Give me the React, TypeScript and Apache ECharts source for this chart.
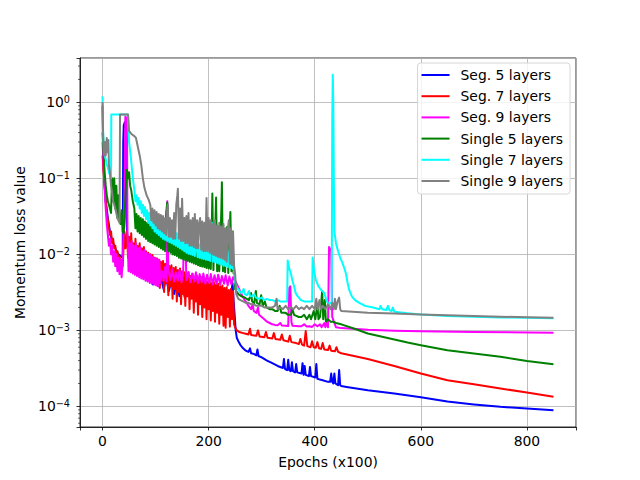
import React, { useEffect, useRef } from "react";
import * as echarts from "echarts";

type Pt = [number, number];

const seriesNames = ["Seg. 5 layers", "Seg. 7 layers", "Seg. 9 layers", "Single 5 layers", "Single 7 layers", "Single 9 layers"];
const seriesColors = ["#0000ff", "#ff0000", "#ff00ff", "#008000", "#00ffff", "#808080"];

const seg5: Pt[] = [
  [0, 0.9], [1, 0.25], [3, 0.1], [6, 0.05], [10, 0.03], [14, 0.02], [18, 0.015], [22, 0.013], [26, 0.011], [30, 0.01], [34, 0.0095], [38, 0.009],
  [39, 0.3], [40, 0.5], [42, 0.55], [44, 0.45], [45, 0.03], [47, 0.015], [50, 0.012], [54, 0.011], [58, 0.0095], [62, 0.009], [66, 0.008], [70, 0.007],
  [75, 0.0065], [80, 0.006], [85, 0.0045], [90, 0.0058], [95, 0.004], [100, 0.0055], [105, 0.0038], [110, 0.005], [115, 0.0035], [120, 0.0048],
  [125, 0.0033], [130, 0.0045], [135, 0.003], [140, 0.0042], [145, 0.0028], [150, 0.004], [155, 0.0027], [160, 0.0038], [165, 0.0026], [170, 0.0036],
  [175, 0.0025], [180, 0.0042], [184, 0.0024], [188, 0.0034], [192, 0.0023], [196, 0.0032], [200, 0.0022], [205, 0.003], [210, 0.0021], [215, 0.0029],
  [220, 0.002], [225, 0.0028], [230, 0.0019], [235, 0.0027], [240, 0.0018], [243, 0.0032], [245, 0.0042], [247, 0.0025], [249, 0.0016], [251, 0.001],
  [253, 0.0008], [256, 0.00072], [260, 0.00064], [265, 0.00058], [270, 0.00054], [275, 0.00052], [278, 0.00058], [280, 0.0005], [285, 0.00049],
  [290, 0.00047], [292, 0.00056], [294, 0.00046], [300, 0.00044], [310, 0.0004], [320, 0.00037], [330, 0.00034], [340, 0.00032], [342, 0.00042],
  [344, 0.00031], [348, 0.0003], [350, 0.00041], [352, 0.0003], [355, 0.00029], [357, 0.00038], [359, 0.00029], [363, 0.00028], [365, 0.00036],
  [367, 0.00028], [375, 0.00027], [377, 0.00037], [379, 0.00026], [381, 0.00034], [383, 0.00026], [389, 0.00025], [391, 0.00033], [393, 0.00025],
  [401, 0.00024], [403, 0.00036], [405, 0.00023], [415, 0.00022], [425, 0.00021], [429, 0.00021], [431, 0.00027], [433, 0.00021], [435, 0.0002],
  [437, 0.00027], [439, 0.0002], [444, 0.00019], [446, 0.0003], [448, 0.00019], [450, 0.000185], [460, 0.00018], [500, 0.000163], [550, 0.000148],
  [600, 0.000132], [650, 0.000116], [700, 0.000106], [750, 0.0000985], [800, 0.0000935], [850, 0.000089],
];

const seg7: Pt[] = [
  [0, 0.2], [2, 0.12], [4, 0.08], [6, 0.05], [8, 0.035], [10, 0.028], [12, 0.022], [14, 0.018], [16, 0.02], [18, 0.014], [20, 0.016], [22, 0.012],
  [24, 0.013], [26, 0.01], [28, 0.011], [30, 0.0085], [32, 0.0095], [34, 0.0075], [36, 0.0085], [38, 0.007], [41, 0.02], [43, 0.012],
  [46, 0.02], [48, 0.009], [50, 0.017], [52, 0.0075], [54, 0.019], [56, 0.0085], [58, 0.014], [60, 0.0065], [62, 0.016], [64, 0.0078], [66, 0.013],
  [68, 0.006], [70, 0.014], [72, 0.0072], [74, 0.012], [76, 0.0055], [78, 0.0125], [80, 0.0066], [82, 0.011], [84, 0.005], [86, 0.0105], [88, 0.006],
  [90, 0.01], [92, 0.0045], [94, 0.0098], [96, 0.0055], [98, 0.009], [100, 0.0041], [102, 0.0088], [104, 0.0048], [106, 0.0085], [108, 0.0036],
  [110, 0.008], [112, 0.0045], [114, 0.0082], [116, 0.0032], [118, 0.0075], [120, 0.0042], [122, 0.008], [124, 0.0029], [126, 0.007], [128, 0.0038],
  [130, 0.0072], [132, 0.0026], [134, 0.0066], [136, 0.0035], [138, 0.0068], [140, 0.0024], [142, 0.0062], [144, 0.0032], [146, 0.0065],
  [148, 0.0022], [150, 0.006], [152, 0.003], [154, 0.0058], [156, 0.0021], [158, 0.0055], [160, 0.0028], [162, 0.0058], [164, 0.0019],
  [166, 0.0052], [168, 0.0026], [170, 0.0055], [172, 0.0017], [174, 0.005], [176, 0.0024], [178, 0.0052], [180, 0.0016], [182, 0.0048],
  [184, 0.0022], [186, 0.005], [188, 0.0015], [190, 0.0046], [192, 0.002], [194, 0.0047], [196, 0.0014], [198, 0.0044], [200, 0.0019],
  [202, 0.0045], [204, 0.00135], [206, 0.0042], [208, 0.0018], [210, 0.0043], [212, 0.0013], [214, 0.004], [216, 0.0017], [218, 0.0041],
  [220, 0.00122], [222, 0.0038], [224, 0.0016], [226, 0.0039], [228, 0.00115], [230, 0.0036], [232, 0.00108], [234, 0.0037], [236, 0.0015],
  [238, 0.0034], [240, 0.00112], [242, 0.0035], [244, 0.0014], [246, 0.0033], [248, 0.0012], [250, 0.0011],
  [253, 0.001], [258, 0.00095], [265, 0.00092], [270, 0.0009], [275, 0.00088], [278, 0.00105], [280, 0.00087], [290, 0.00085], [293, 0.001],
  [296, 0.00083], [305, 0.00081], [308, 0.00095], [311, 0.0008], [320, 0.00078], [323, 0.00092], [326, 0.00077], [335, 0.00075], [338, 0.00088],
  [341, 0.00074], [350, 0.00071], [353, 0.00085], [356, 0.0007], [365, 0.00068], [370, 0.00066], [373, 0.00077], [376, 0.00065], [380, 0.00063],
  [383, 0.00098], [386, 0.00062], [392, 0.0006], [395, 0.00072], [398, 0.0006], [402, 0.00059], [405, 0.0007], [408, 0.00058], [412, 0.00057],
  [415, 0.00068], [418, 0.00056], [425, 0.00055], [428, 0.00063], [431, 0.00054], [438, 0.00053], [441, 0.0006], [444, 0.00052], [450, 0.0005],
  [500, 0.00042], [550, 0.00034], [600, 0.00027], [650, 0.00022], [700, 0.000195], [750, 0.000172], [800, 0.000152], [850, 0.000134],
];

const seg9: Pt[] = [
  [0, 0.3], [2, 0.15], [4, 0.07], [6, 0.04], [8, 0.025], [10, 0.018], [12, 0.013], [14, 0.016], [16, 0.01], [18, 0.013], [20, 0.008], [22, 0.011],
  [24, 0.007], [26, 0.01], [28, 0.006], [30, 0.009], [32, 0.0055], [34, 0.0085], [36, 0.005], [38, 0.008], [41, 0.05], [43, 0.65], [46, 0.6],
  [47, 0.02], [49, 0.006], [51, 0.014], [53, 0.0058], [55, 0.015], [57, 0.0056], [59, 0.013], [61, 0.0054], [63, 0.014], [65, 0.0052], [67, 0.012],
  [69, 0.005], [71, 0.0125], [73, 0.0048], [75, 0.011], [77, 0.0047], [79, 0.0115], [81, 0.0045], [83, 0.0105], [85, 0.0044], [87, 0.01],
  [89, 0.0042], [91, 0.0098], [93, 0.0041], [95, 0.0092], [97, 0.004], [99, 0.009], [101, 0.0039], [103, 0.0088], [105, 0.0038], [107, 0.0085],
  [109, 0.0042], [112, 0.006], [115, 0.0045], [118, 0.0068], [121, 0.0044], [122, 0.05], [124, 0.0062], [128, 0.0046], [131, 0.0064],
  [135, 0.0044], [138, 0.0058], [142, 0.0045], [145, 0.0062], [149, 0.0043], [152, 0.006], [154, 0.03], [156, 0.02], [158, 0.0046], [162, 0.0058],
  [166, 0.0043], [169, 0.0056], [173, 0.0044], [176, 0.0058], [180, 0.0042], [183, 0.0055], [187, 0.0043], [190, 0.0056], [194, 0.0041],
  [197, 0.0054], [201, 0.0042], [204, 0.0055], [208, 0.004], [211, 0.0053], [215, 0.0041], [218, 0.0054], [222, 0.004], [225, 0.0052],
  [229, 0.0041], [232, 0.0053], [236, 0.0039], [239, 0.0051], [243, 0.004], [246, 0.005], [250, 0.0045],
  [255, 0.0038], [260, 0.0032], [265, 0.0027], [270, 0.0024], [275, 0.0021], [280, 0.0019], [283, 0.0022], [285, 0.0018], [290, 0.0017],
  [293, 0.002], [295, 0.0016], [300, 0.0015], [305, 0.0014], [310, 0.0013], [315, 0.00125], [320, 0.0012], [325, 0.00118], [330, 0.00117],
  [335, 0.00125], [338, 0.00116], [345, 0.00115], [350, 0.00114], [352, 0.0036], [354, 0.0038], [356, 0.0013], [358, 0.00115], [365, 0.00114],
  [370, 0.00113], [375, 0.00113], [380, 0.0012], [385, 0.00112], [390, 0.00113], [395, 0.00111], [400, 0.0012], [405, 0.00113], [410, 0.0012],
  [413, 0.0011], [418, 0.00125], [420, 0.0011], [423, 0.0013], [425, 0.0011], [427, 0.0125], [431, 0.011], [433, 0.0015], [436, 0.0013],
  [440, 0.0011], [450, 0.00107], [500, 0.00102], [550, 0.00099], [600, 0.00097], [700, 0.00095], [850, 0.00093],
];

const single5: Pt[] = [
  [0, 0.4], [2, 0.2], [4, 0.12], [6, 0.08], [8, 0.06], [10, 0.05], [12, 0.045], [14, 0.04], [16, 0.035], [18, 0.1], [20, 0.05], [22, 0.1],
  [24, 0.04], [26, 0.08], [28, 0.03], [30, 0.06], [32, 0.03], [34, 0.025], [36, 0.038], [38, 0.02], [40, 0.019], [44, 0.08], [46, 0.13],
  [48, 0.1], [50, 0.12], [52, 0.08], [54, 0.07], [57, 0.05],
  [60, 0.04], [62, 0.022], [64, 0.034], [66, 0.02], [68, 0.032], [70, 0.019], [72, 0.03], [74, 0.018], [76, 0.029], [78, 0.017], [80, 0.027],
  [82, 0.016], [84, 0.026], [86, 0.015], [88, 0.025], [90, 0.0145], [92, 0.024], [94, 0.014], [96, 0.023], [98, 0.0135], [100, 0.022], [102, 0.013],
  [104, 0.021], [106, 0.0125], [108, 0.02], [110, 0.012], [112, 0.0195], [114, 0.0115], [116, 0.019], [118, 0.011], [120, 0.036], [122, 0.048],
  [124, 0.011], [126, 0.018], [128, 0.0105], [130, 0.0175], [132, 0.01], [134, 0.017], [136, 0.0098], [138, 0.0165], [140, 0.0095], [142, 0.016],
  [144, 0.009], [146, 0.02], [148, 0.0088], [150, 0.0155], [152, 0.0086], [154, 0.015], [156, 0.0084], [158, 0.0145], [160, 0.0082], [162, 0.016],
  [164, 0.008], [166, 0.014], [168, 0.0078], [170, 0.0135], [172, 0.0076], [174, 0.018], [176, 0.0074], [178, 0.013], [180, 0.0072], [182, 0.0128],
  [184, 0.007], [186, 0.015], [188, 0.0069], [190, 0.0125], [192, 0.0068], [194, 0.012], [196, 0.0066], [198, 0.02], [200, 0.0065], [202, 0.012],
  [204, 0.0064], [206, 0.025], [207, 0.063], [209, 0.0062], [211, 0.015], [213, 0.03], [214, 0.056], [216, 0.006], [218, 0.014], [220, 0.006],
  [222, 0.013], [224, 0.04], [225, 0.089], [227, 0.006], [229, 0.018], [231, 0.0058], [233, 0.013], [235, 0.023], [237, 0.0057], [239, 0.016],
  [241, 0.036], [243, 0.006], [245, 0.02], [247, 0.0056], [249, 0.0055], [250, 0.0035],
  [252, 0.0033], [256, 0.003], [262, 0.0028], [268, 0.0027], [272, 0.0026], [276, 0.0025], [280, 0.0031], [282, 0.0024], [286, 0.0023],
  [289, 0.0033], [291, 0.0023], [296, 0.0022], [299, 0.0029], [302, 0.0021], [306, 0.0024], [309, 0.002], [315, 0.0019], [320, 0.0019],
  [325, 0.0018], [330, 0.0018], [334, 0.0021], [337, 0.0017], [345, 0.0017], [350, 0.0016], [355, 0.0016], [358, 0.0019], [361, 0.0016],
  [370, 0.0015], [375, 0.0015], [380, 0.0016], [385, 0.0014], [390, 0.0016], [393, 0.0014], [398, 0.0018], [401, 0.0014], [405, 0.0022],
  [407, 0.0014], [410, 0.0015], [414, 0.0033], [416, 0.0014], [419, 0.0025], [421, 0.0013], [425, 0.0014], [430, 0.0013], [435, 0.0013],
  [440, 0.00125], [450, 0.0012], [475, 0.00105], [500, 0.00091], [525, 0.00083], [550, 0.00076], [575, 0.00069], [600, 0.000635],
  [625, 0.000589], [650, 0.000546], [700, 0.000495], [750, 0.00045], [800, 0.000395], [850, 0.000357],
];

const single7: Pt[] = [
  [0, 1.2], [1, 0.4], [2, 0.3], [4, 0.2], [6, 0.18], [8, 0.15], [10, 0.14], [12, 0.12], [14, 0.11], [16, 0.1], [16.5, 0.69], [48, 0.69],
  [50, 0.3], [53, 0.2], [56, 0.12], [58, 0.09],
  [60, 0.07], [62, 0.05], [64, 0.06], [66, 0.045], [68, 0.055], [70, 0.04], [72, 0.05], [74, 0.035], [76, 0.045], [78, 0.032], [80, 0.042],
  [82, 0.029], [84, 0.038], [86, 0.026], [88, 0.035], [90, 0.024], [92, 0.033], [94, 0.022], [96, 0.031], [98, 0.02], [100, 0.029], [102, 0.019],
  [104, 0.027], [106, 0.018], [108, 0.026], [110, 0.017], [112, 0.025], [114, 0.016], [116, 0.024], [118, 0.0155], [120, 0.023], [122, 0.015],
  [124, 0.022], [126, 0.0145], [128, 0.021], [130, 0.014], [132, 0.02], [134, 0.0135], [136, 0.0195], [138, 0.013], [140, 0.019], [142, 0.0125],
  [144, 0.018], [146, 0.012], [148, 0.0175], [150, 0.0115], [152, 0.017], [154, 0.011], [156, 0.0165], [158, 0.0105], [160, 0.016], [162, 0.0102],
  [164, 0.0155], [166, 0.01], [168, 0.015], [170, 0.0098], [172, 0.0145], [174, 0.0095], [176, 0.014], [177, 0.027], [179, 0.0092], [181, 0.014],
  [183, 0.009], [185, 0.0135], [187, 0.0088], [189, 0.013], [191, 0.0087], [193, 0.0128], [195, 0.0085], [197, 0.0125], [199, 0.0084], [201, 0.012],
  [203, 0.0082], [205, 0.018], [206, 0.026], [208, 0.008], [210, 0.02], [212, 0.0079], [214, 0.012], [216, 0.0077], [218, 0.0118], [220, 0.0075],
  [222, 0.0115], [224, 0.0073], [226, 0.0112], [228, 0.0071], [230, 0.011], [232, 0.007], [234, 0.0105], [236, 0.0068], [238, 0.0102], [240, 0.012],
  [242, 0.0066], [244, 0.01], [246, 0.0064], [248, 0.0062], [250, 0.0042],
  [254, 0.0036], [258, 0.0033], [262, 0.0031], [266, 0.0035], [268, 0.003], [272, 0.0029], [276, 0.0033], [278, 0.0028], [282, 0.0028],
  [286, 0.003], [289, 0.0027], [295, 0.0026], [300, 0.0027], [305, 0.0025], [310, 0.0026], [315, 0.0025], [320, 0.0025], [325, 0.0024],
  [330, 0.0025], [335, 0.0024], [340, 0.0024], [345, 0.0024], [348, 0.0024], [349, 0.0083], [352, 0.0065], [355, 0.0056], [358, 0.0045],
  [361, 0.0038], [364, 0.0031], [368, 0.0028], [374, 0.0025], [380, 0.0024], [386, 0.0024], [392, 0.0024], [395, 0.0024], [396, 0.0091],
  [399, 0.006], [402, 0.0046], [407, 0.0038], [412, 0.0034], [418, 0.0031], [422, 0.0025], [426, 0.0022], [430, 0.0023], [432, 0.0023],
  [433, 0.6], [434, 2.3], [435, 1.0], [436, 0.1], [437, 0.02], [440, 0.014], [444, 0.011], [448, 0.009], [452, 0.0078], [456, 0.0065],
  [459, 0.0055], [462, 0.0042], [465, 0.0034], [470, 0.0028], [476, 0.0025], [484, 0.0023], [495, 0.0021], [510, 0.002], [522, 0.0019],
  [524, 0.0021], [527, 0.0019], [535, 0.00185], [538, 0.0021], [541, 0.00183], [545, 0.0018], [547, 0.002], [550, 0.00176], [575, 0.00168],
  [600, 0.00162], [650, 0.00155], [700, 0.00151], [750, 0.00148], [800, 0.00146], [850, 0.00144],
];

const single9: Pt[] = [
  [0, 1.0], [1, 0.4], [2, 0.25], [3, 0.2], [5, 0.3], [6, 0.2], [8, 0.34], [9, 0.22], [11, 0.32], [12, 0.15], [14, 0.12], [16, 0.08], [18, 0.065],
  [20, 0.05], [22, 0.045], [24, 0.04], [26, 0.035], [28, 0.03], [30, 0.028], [32, 0.026], [33, 0.69], [48, 0.69], [50, 0.42], [55, 0.38],
  [60, 0.36], [63, 0.34], [66, 0.27], [70, 0.2], [73, 0.15], [76, 0.1], [79, 0.075], [83, 0.06], [87, 0.052],
  [90, 0.045], [92, 0.028], [94, 0.04], [96, 0.026], [98, 0.038], [100, 0.024], [102, 0.036], [104, 0.022], [106, 0.034], [108, 0.021],
  [110, 0.033], [112, 0.02], [114, 0.032], [116, 0.019], [118, 0.03], [120, 0.018], [122, 0.04], [123, 0.045], [125, 0.017], [127, 0.03],
  [129, 0.017], [131, 0.028], [133, 0.016], [135, 0.035], [137, 0.016], [139, 0.045], [141, 0.06], [142, 0.073], [144, 0.016], [146, 0.04],
  [148, 0.015], [150, 0.054], [152, 0.015], [154, 0.03], [156, 0.014], [158, 0.032], [160, 0.014], [162, 0.035], [164, 0.013], [166, 0.028],
  [168, 0.013], [170, 0.03], [172, 0.0125], [174, 0.034], [176, 0.012], [178, 0.028], [180, 0.012], [182, 0.026], [184, 0.03], [186, 0.0115],
  [188, 0.027], [190, 0.011], [192, 0.026], [194, 0.011], [196, 0.055], [198, 0.011], [200, 0.03], [202, 0.0105], [204, 0.028], [206, 0.01],
  [208, 0.025], [210, 0.0098], [212, 0.028], [214, 0.0095], [216, 0.024], [218, 0.0092], [220, 0.026], [222, 0.009], [224, 0.023], [226, 0.0088],
  [228, 0.025], [230, 0.0085], [232, 0.022], [234, 0.008], [236, 0.021], [238, 0.028], [240, 0.0075], [242, 0.022], [244, 0.0072], [246, 0.02],
  [248, 0.007], [250, 0.0055],
  [252, 0.003], [256, 0.0026], [260, 0.0025], [265, 0.0024], [270, 0.0023], [275, 0.0023], [280, 0.0022], [285, 0.0022], [290, 0.0021],
  [295, 0.0021], [300, 0.0021], [305, 0.002], [310, 0.002], [315, 0.002], [320, 0.002], [325, 0.0021], [328, 0.0026], [330, 0.0019], [335, 0.002],
  [340, 0.0019], [345, 0.0021], [350, 0.0019], [355, 0.002], [360, 0.0019], [365, 0.0021], [370, 0.0019], [375, 0.002], [380, 0.0019],
  [385, 0.0021], [390, 0.0019], [395, 0.0021], [400, 0.0019], [403, 0.0026], [405, 0.0019], [409, 0.0025], [411, 0.0019], [415, 0.0021],
  [420, 0.0019], [425, 0.0022], [430, 0.0019], [433, 0.0023], [436, 0.0019], [438, 0.0026], [440, 0.0019], [443, 0.0024], [446, 0.0027],
  [448, 0.0019], [450, 0.0018], [500, 0.0017], [550, 0.00166], [600, 0.00162], [650, 0.00158], [700, 0.00154], [750, 0.00151],
  [800, 0.00149], [850, 0.00147],
];

const seriesData: Pt[][] = [seg5, seg7, seg9, single5, single7, single9];

const xTicks = [0, 200, 400, 600, 800];
const yMajorExponents = [-4, -3, -2, -1, 0];
const minorTicks = [
  6e-5, 7e-5, 8e-5, 9e-5,
  2e-4, 3e-4, 4e-4, 5e-4, 6e-4, 7e-4, 8e-4, 9e-4,
  2e-3, 3e-3, 4e-3, 5e-3, 6e-3, 7e-3, 8e-3, 9e-3,
  2e-2, 3e-2, 4e-2, 5e-2, 6e-2, 7e-2, 8e-2, 9e-2,
  0.2, 0.3, 0.4, 0.5, 0.6, 0.7, 0.8, 0.9,
  2, 3,
];

const X_MIN = -42.5;
const X_MAX = 892.5;
const Y_MIN = 5.35e-5;
const Y_MAX = 3.83;
const FONT = "DejaVu Sans";
const FS = 13.9;

function yLabel(v: number): string {
  const e = Math.log10(v);
  const r = Math.round(e);
  if (Math.abs(e - r) > 1e-6 || !yMajorExponents.includes(r)) return "";
  const exp = r < 0 ? "\u2212" + String(-r) : String(r);
  return `{b|10}{s|${exp}}`;
}

function xLabel(v: number): string {
  return xTicks.includes(v) ? String(v) : "";
}

export default function App() {
  const ref = useRef<HTMLDivElement>(null);
  useEffect(() => {
    const chart = echarts.init(ref.current!, undefined, { renderer: "svg" });
    const lineSeries = seriesNames.map((name, i) => ({
      name,
      type: "line",
      data: seriesData[i],
      showSymbol: false,
      symbol: "none",
      color: seriesColors[i],
      lineStyle: { width: 2, color: seriesColors[i], join: "round" },
      emphasis: { disabled: true },
      z: 2,
    }));
    chart.setOption({
      animation: false,
      backgroundColor: "#ffffff",
      grid: {
        left: 80,
        right: 64,
        top: 58,
        bottom: 53,
        show: true,
        borderColor: "#000",
        borderWidth: 0.8,
        backgroundColor: "transparent",
      },
      legend: {
        data: seriesNames,
        orient: "vertical",
        right: 70,
        top: 63,
        icon: "rect",
        itemWidth: 28,
        itemHeight: 2,
        itemGap: 5.2,
        padding: [4, 7, 5, 4],
        backgroundColor: "rgba(255,255,255,0.8)",
        borderColor: "#d6d6d6",
        borderWidth: 1,
        borderRadius: 3,
        textStyle: { fontFamily: FONT, fontSize: FS, color: "#000", lineHeight: 16, padding: [0, 0, 0, 6] },
      },
      xAxis: {
        type: "value",
        min: X_MIN,
        max: X_MAX,
        name: "Epochs (x100)",
        nameLocation: "middle",
        nameGap: 28,
        nameTextStyle: { fontFamily: FONT, fontSize: FS, color: "#000" },
        axisLine: { show: true, onZero: false, lineStyle: { color: "#000", width: 0.8 } },
        axisTick: { show: true, length: 3.5, lineStyle: { color: "#000", width: 0.8 } },
        axisLabel: { formatter: xLabel, margin: 7, fontFamily: FONT, fontSize: FS, color: "#000" },
        splitLine: { show: true, lineStyle: { color: "#b0b0b0", width: 0.8 } },
      },
      yAxis: {
        type: "log",
        logBase: 10,
        min: Y_MIN,
        max: Y_MAX,
        name: "Momentum loss value",
        nameLocation: "middle",
        nameGap: 50,
        nameRotate: 90,
        nameTextStyle: { fontFamily: FONT, fontSize: FS, color: "#000" },
        axisLine: { show: true, onZero: false, lineStyle: { color: "#000", width: 0.8 } },
        axisTick: { show: true, length: 3.5, lineStyle: { color: "#000", width: 0.8 } },
        axisLabel: {
          formatter: yLabel,
          margin: 10,
          rich: {
            b: { fontFamily: FONT, fontSize: FS, color: "#000", lineHeight: 16 },
            s: { fontFamily: FONT, fontSize: 9.7, color: "#000", lineHeight: 10, verticalAlign: "top" },
          },
        },
        splitLine: { show: true, lineStyle: { color: "#b0b0b0", width: 0.8 } },
      },
      series: [
        ...lineSeries,
        {
          name: "minorTicks",
          type: "custom",
          silent: true,
          clip: false,
          data: minorTicks.map((v) => [X_MIN, v]),
          encode: { x: 0, y: 1 },
          renderItem: (_params: any, api: any) => {
            const p = api.coord([api.value(0), api.value(1)]);
            return {
              type: "line",
              shape: { x1: p[0] - 2, y1: p[1], x2: p[0], y2: p[1] },
              style: { stroke: "#000", lineWidth: 0.6 },
            };
          },
          z: 1,
        },
      ],
    });
    return () => chart.dispose();
  }, []);
  return (
    <div
      ref={ref}
      style={{ position: "fixed", left: 0, top: 0, width: 640, height: 480, background: "#fff" }}
    />
  );
}
